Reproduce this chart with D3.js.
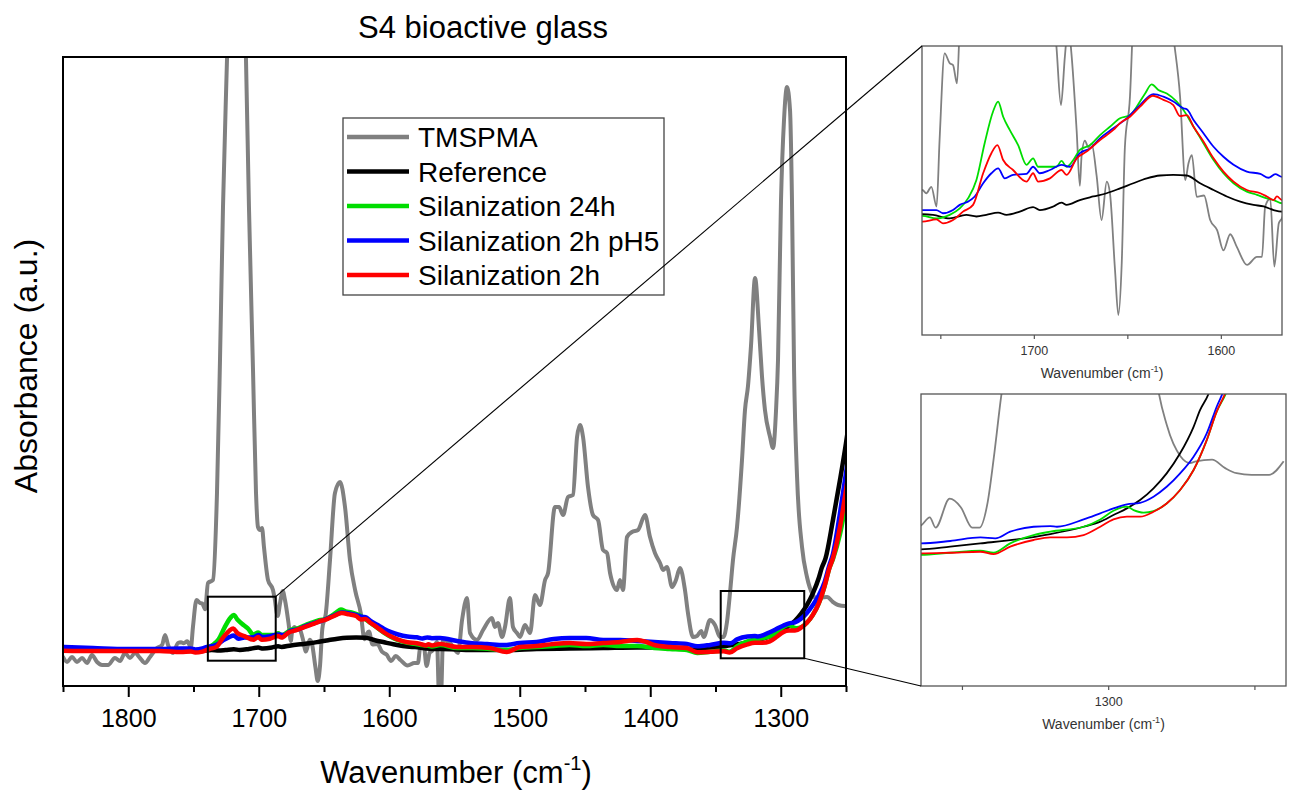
<!DOCTYPE html>
<html><head><meta charset="utf-8">
<script src="https://cdn.jsdelivr.net/npm/d3@7"></script>
<style>body{margin:0;background:#fff} svg{display:block} text{font-family:"Liberation Sans",Arial,Helvetica,sans-serif}</style>
</head><body><svg id="c" width="1291" height="796"></svg>
<script>
// ---- data: [wavenumber (cm-1), absorbance (a.u.)] ----
const tmspma = [[1850,0.29],[1846.9,0.24],[1843.1,0.29],[1839.3,0.24],[1835.4,0.28],[1831.6,0.23],[1827.8,0.31],[1823.9,0.24],[1820.1,0.21],[1815.5,0.21],[1810.2,0.28],[1806.3,0.25],[1802.5,0.33],[1798.7,0.28],[1794.8,0.33],[1791,0.28],[1787.2,0.23],[1783.3,0.29],[1778,0.38],[1774.1,0.41],[1771.8,0.51],[1769.5,0.41],[1765.7,0.33],[1761.9,0.43],[1759.6,0.437],[1757.5,0.427],[1754.8,0.447],[1752,0.386],[1750.4,0.592],[1747.7,0.86],[1745,0.83],[1743.2,0.824],[1741.1,0.767],[1738.9,1.03],[1735.1,1.06],[1732,1.93],[1729.7,3.26],[1727.4,4.79],[1724.3,6.28],[1721,7.9],[1717,8.3],[1713,7.7],[1709.8,6.28],[1707.5,4.79],[1704.4,3.16],[1702.1,1.93],[1700.6,1.59],[1699,1.56],[1697.5,1.58],[1696,1.39],[1692.9,1.06],[1689.1,0.96],[1687.9,0.88],[1685.5,0.7],[1683.4,0.85],[1681.6,0.95],[1679.9,0.86],[1677.1,0.62],[1675.4,0.45],[1674.5,0.54],[1672.7,0.59],[1670.9,0.57],[1669.1,0.58],[1666.4,0.48],[1663.8,0.344],[1661,0.463],[1659.3,0.427],[1656.6,0.19],[1654.8,0.05],[1653,0.21],[1651.3,0.571],[1648.6,0.726],[1645.4,1.26],[1641.6,1.93],[1637.7,2.04],[1633.9,1.79],[1630.1,1.26],[1626,0.95],[1621.8,0.726],[1619,0.468],[1617.3,0.52],[1615.5,0.545],[1612.9,0.416],[1609,0.42],[1605.7,0.344],[1602,0.313],[1598.6,0.25],[1595,0.3],[1591.4,0.26],[1586,0.205],[1580.7,0.23],[1578,0.23],[1576.3,0.386],[1573.6,0.41],[1571.4,0.2],[1569,0.334],[1567.3,0.35],[1563.4,0.44],[1561.9,-0.08],[1560.3,-0.08],[1558.8,0.46],[1553.4,0.43],[1549.6,0.36],[1547.3,0.33],[1544.2,0.66],[1540.4,0.88],[1538.1,0.53],[1532.7,0.46],[1528.1,0.56],[1521.3,0.68],[1519,0.59],[1516.7,0.63],[1513.6,0.49],[1511.3,0.59],[1507.5,0.88],[1505.2,0.59],[1502.1,0.53],[1499.8,0.49],[1496,0.61],[1492.1,0.53],[1488.3,0.91],[1484.5,0.81],[1480.6,1.06],[1478.3,1.13],[1473,1.79],[1469.9,1.79],[1466.8,1.71],[1463,1.89],[1459.2,1.91],[1456.1,2.49],[1453.8,2.61],[1451.5,2.49],[1447.7,1.99],[1443.9,1.71],[1440,1.66],[1436.2,1.36],[1433.1,1.33],[1430.8,1.13],[1425.5,0.96],[1423.2,1.06],[1420.9,0.96],[1417.8,1.49],[1414,1.54],[1409.4,1.56],[1404,1.71],[1400.2,1.49],[1396.4,1.33],[1392.5,1.23],[1390.2,1.16],[1387.2,1.19],[1383.3,0.99],[1380.3,1.06],[1377.2,1.18],[1373.4,0.96],[1371.1,0.73],[1367.2,0.49],[1364.2,0.5],[1361,0.55],[1359,0.49],[1354.2,0.66],[1350.4,0.61],[1346.5,0.49],[1344,0.49],[1341.2,0.64],[1338.9,0.93],[1336.6,1.26],[1333.5,1.59],[1329.7,2.26],[1327.4,2.76],[1325.1,3.0],[1322.8,3.4],[1319.7,4.08],[1316.6,3.56],[1314.4,3.1],[1312.1,2.76],[1308.2,2.49],[1305.9,2.38],[1303.6,2.76],[1302.1,3.26],[1299.8,4.86],[1297.5,5.66],[1295.2,5.99],[1292.9,5.76],[1291.4,4.86],[1289.8,3.16],[1287.5,2.09],[1283.7,1.39],[1279.9,1.09],[1275.3,0.91],[1272,0.87],[1270,0.88],[1264.5,0.89],[1260,0.84],[1256.1,0.81],[1251,0.8],[1245,0.8],[1240,0.88]];

const reference = [[1850,0.36],[1800,0.36],[1759.6,0.362],[1753.9,0.36],[1745,0.349],[1736.1,0.36],[1730.7,0.355],[1725.4,0.36],[1719.1,0.367],[1714.6,0.36],[1707.5,0.37],[1700.4,0.384],[1696.8,0.375],[1689.6,0.386],[1685.2,0.398],[1682.5,0.391],[1675.4,0.406],[1668.2,0.417],[1661.1,0.427],[1653.9,0.442],[1646.8,0.458],[1639.6,0.473],[1632.5,0.482],[1625.4,0.484],[1618.2,0.482],[1611.1,0.458],[1603.9,0.437],[1596.8,0.417],[1589.6,0.401],[1582.5,0.391],[1577.1,0.386],[1571.8,0.375],[1567.3,0.37],[1561,0.37],[1536,0.36],[1510,0.36],[1487,0.37],[1462,0.375],[1436,0.38],[1410,0.385],[1385,0.385],[1364,0.362],[1354,0.378],[1343.7,0.397],[1331.2,0.421],[1319.8,0.452],[1308.4,0.495],[1302.7,0.525],[1298.2,0.564],[1293.6,0.603],[1289.1,0.652],[1284.5,0.721],[1280,0.809],[1275.4,0.927],[1270.8,1.083],[1268.6,1.181],[1265.7,1.276],[1260,1.66],[1254.6,2.06],[1250,2.43],[1245,2.9],[1239,3.6]];

const sil24h = [[1850,0.36],[1800,0.36],[1759.6,0.357],[1752.1,0.349],[1745,0.36],[1739.6,0.38],[1735.2,0.411],[1730.7,0.468],[1726.3,0.582],[1721.8,0.68],[1719.1,0.711],[1716.4,0.664],[1712.9,0.623],[1708.4,0.576],[1703.9,0.515],[1700.4,0.535],[1697.7,0.509],[1691.4,0.509],[1687.9,0.509],[1685.2,0.527],[1682.5,0.509],[1678.9,0.53],[1675.4,0.561],[1670,0.576],[1664.6,0.607],[1659.3,0.633],[1653.9,0.659],[1648.6,0.669],[1645,0.695],[1640.5,0.736],[1637,0.764],[1633.4,0.747],[1628.9,0.736],[1623.6,0.711],[1620,0.685],[1614.6,0.633],[1609.3,0.582],[1603.9,0.53],[1598.6,0.489],[1593.2,0.458],[1586.1,0.432],[1580.7,0.422],[1575.4,0.411],[1571.8,0.406],[1567.3,0.396],[1561,0.41],[1548,0.38],[1536,0.38],[1523,0.37],[1510,0.36],[1500,0.38],[1487,0.39],[1474,0.4],[1462,0.41],[1449,0.4],[1436,0.41],[1423,0.4],[1410,0.4],[1397,0.38],[1385,0.37],[1372,0.36],[1364,0.329],[1354,0.342],[1343.7,0.354],[1339.2,0.342],[1333.5,0.397],[1325.5,0.446],[1319.8,0.466],[1308.4,0.495],[1302.7,0.538],[1298.2,0.589],[1293.6,0.613],[1291.3,0.593],[1287.9,0.578],[1284.5,0.587],[1280,0.632],[1275.4,0.711],[1270.8,0.829],[1266.3,1.005],[1262.9,1.172],[1260,1.27],[1254.6,1.52],[1250,1.83],[1245,2.2],[1239,2.8]];

const sil2hpH5 = [[1850,0.39],[1827,0.38],[1801,0.37],[1776,0.37],[1759.6,0.375],[1752.1,0.375],[1748.6,0.365],[1743.2,0.375],[1739.6,0.391],[1735.2,0.401],[1731.6,0.417],[1727.1,0.458],[1722.7,0.489],[1719.1,0.504],[1715.5,0.473],[1711.1,0.484],[1703.9,0.487],[1700.4,0.509],[1696.8,0.489],[1691.4,0.499],[1685.2,0.515],[1680.7,0.509],[1675.4,0.551],[1670,0.566],[1664.6,0.597],[1657.5,0.628],[1650.4,0.659],[1643.2,0.7],[1636.1,0.734],[1630.7,0.726],[1625.4,0.711],[1620,0.69],[1618.2,0.687],[1614.6,0.654],[1609.3,0.613],[1603.9,0.571],[1598.6,0.54],[1593.2,0.515],[1586.1,0.494],[1578.9,0.487],[1574.5,0.475],[1570.9,0.486],[1567.3,0.478],[1561,0.48],[1548,0.45],[1538,0.43],[1525,0.42],[1512,0.41],[1500,0.43],[1487,0.44],[1474,0.47],[1462,0.48],[1449,0.48],[1436,0.46],[1423,0.46],[1410,0.45],[1397,0.44],[1385,0.43],[1372,0.42],[1364,0.397],[1354,0.411],[1343.7,0.432],[1338.6,0.427],[1333.5,0.466],[1325.5,0.495],[1319.8,0.499],[1317.5,0.495],[1308.4,0.538],[1302.7,0.574],[1298.2,0.603],[1293.6,0.627],[1289.1,0.636],[1284.5,0.672],[1280,0.73],[1275.4,0.809],[1270.8,0.907],[1266.3,1.044],[1262.9,1.201],[1260,1.32],[1254.6,1.73],[1250,2.13],[1245,2.6],[1239,3.3]];

const sil2h = [[1850,0.353],[1827,0.35],[1801,0.35],[1776,0.35],[1759.6,0.339],[1752.1,0.346],[1748.6,0.334],[1743.2,0.344],[1737.9,0.37],[1732.5,0.391],[1727.1,0.489],[1722.7,0.551],[1719.5,0.576],[1716.4,0.53],[1711.1,0.499],[1703.9,0.463],[1700.4,0.489],[1697.7,0.463],[1691.4,0.473],[1685.2,0.499],[1682.5,0.484],[1677.1,0.535],[1671.8,0.556],[1664.6,0.592],[1657.5,0.623],[1653.9,0.644],[1648.6,0.664],[1643.2,0.695],[1636.4,0.729],[1630.7,0.716],[1625.4,0.7],[1621.8,0.666],[1618.2,0.669],[1614.6,0.633],[1609.3,0.587],[1603.9,0.535],[1598.6,0.494],[1593.2,0.463],[1586.1,0.437],[1578.9,0.427],[1575.4,0.417],[1571.8,0.406],[1570,0.417],[1567.3,0.406],[1561,0.42],[1548,0.39],[1536,0.39],[1523,0.38],[1510,0.34],[1500,0.39],[1487,0.4],[1474,0.42],[1462,0.43],[1449,0.42],[1436,0.43],[1423,0.44],[1410,0.46],[1403,0.44],[1397,0.41],[1385,0.39],[1372,0.38],[1364,0.338],[1354,0.342],[1343.7,0.348],[1339.2,0.334],[1333.5,0.378],[1325.5,0.417],[1319.8,0.432],[1314.1,0.432],[1308.4,0.446],[1302.7,0.495],[1298.2,0.538],[1293.6,0.554],[1289.1,0.554],[1284.5,0.583],[1280,0.632],[1275.4,0.711],[1270.8,0.829],[1266.3,1.005],[1262.9,1.172],[1260,1.28],[1254.6,1.59],[1250,1.96],[1245,2.4],[1239,3.0]];

const seriesNames  = ["TMSPMA","Reference","Silanization 24h","Silanization 2h pH5","Silanization 2h"];
const seriesColors = ["#808080","#000000","#00dd00","#0000ff","#ff0000"];
const seriesData   = [tmspma, reference, sil24h, sil2hpH5, sil2h];

const majorTicks  = [1800,1700,1600,1500,1400,1300];
const minorTicks  = [1850,1750,1650,1550,1450,1350,1250];
const inset1Major = [1700,1600];
const inset1Minor = [1750,1650];
const inset2Major = [1300];
const inset2Minor = [1350,1250];
// zoom boxes (wavenumber range, absorbance range)
const zoomBox1 = [1739,1687,0.253,0.893];
const zoomBox2 = [1346,1282,0.277,0.95];

// ---- drawing ----
const svg = d3.select("#c");
const FONT = '"Liberation Sans",Arial,sans-serif';

const M = {l:63, r:846, t:57, b:686};
const x = d3.scaleLinear().domain([1850,1250]).range([M.l,M.r]);
const y = d3.scaleLinear().domain([0,6.29]).range([M.b,M.t]);

svg.append("clipPath").attr("id","cpMain").append("rect")
  .attr("x",M.l).attr("y",M.t).attr("width",M.r-M.l).attr("height",M.b-M.t);

const gMain = svg.append("g").attr("clip-path","url(#cpMain)");
const line = d3.line().x(d=>x(d[0])).y(d=>y(d[1])).curve(d3.curveMonotoneX);
seriesData.forEach((s,i)=>{
  gMain.append("path").datum(s).attr("d",line).attr("fill","none")
    .attr("stroke",seriesColors[i]).attr("stroke-width",i===0?4:4.5)
    .attr("stroke-linejoin","round").attr("stroke-linecap","round");
});

// frame
svg.append("rect").attr("x",M.l).attr("y",M.t).attr("width",M.r-M.l).attr("height",M.b-M.t)
  .attr("fill","none").attr("stroke","#000").attr("stroke-width",2);

// x axis
const ax = svg.append("g").attr("transform",`translate(0,${M.b})`)
  .call(d3.axisBottom(x).tickValues(majorTicks).tickSize(11).tickFormat(d3.format("d")));
ax.select(".domain").remove();
ax.selectAll(".tick line").attr("stroke","#000").attr("stroke-width",2);
ax.selectAll(".tick text").attr("y",41).attr("dy",null).attr("font-size",25).attr("font-family",FONT).attr("fill","#000");
const axm = svg.append("g").attr("transform",`translate(0,${M.b})`)
  .call(d3.axisBottom(x).tickValues(minorTicks).tickSize(6).tickFormat(""));
axm.select(".domain").remove();
axm.selectAll(".tick line").attr("stroke","#000").attr("stroke-width",2);

// titles
svg.append("text").attr("x",483).attr("y",38).attr("text-anchor","middle")
  .attr("font-size",31).text("S4 bioactive glass");
svg.append("text").attr("transform","translate(37,366) rotate(-90)").attr("text-anchor","middle")
  .attr("font-size",32).text("Absorbance (a.u.)");
const xt = svg.append("text").attr("x",456).attr("y",783).attr("text-anchor","middle").attr("font-size",31);
xt.append("tspan").text("Wavenumber (cm");
xt.append("tspan").attr("font-size",20).attr("dy",-13).text("-1");
xt.append("tspan").attr("dy",13).text(")");

// zoom boxes
[zoomBox1,zoomBox2].forEach(b=>{
  svg.append("rect").attr("x",x(b[0])).attr("y",y(b[3]))
    .attr("width",x(b[1])-x(b[0])).attr("height",y(b[2])-y(b[3]))
    .attr("fill","none").attr("stroke","#000").attr("stroke-width",2);
});

// legend
const lg = svg.append("g");
lg.append("rect").attr("x",343).attr("y",118).attr("width",321).attr("height",177)
  .attr("fill","#fff").attr("stroke","#444").attr("stroke-width",1.3);
seriesNames.forEach((n,i)=>{
  const yy = 137 + i*34.5;
  lg.append("line").attr("x1",347).attr("x2",409).attr("y1",yy).attr("y2",yy)
    .attr("stroke",seriesColors[i]).attr("stroke-width",4.5);
  lg.append("text").attr("x",418).attr("y",yy+10).attr("font-size",28).text(n);
});

// insets
function inset(id, xd, yd, xr, yr, major, minor, lw){
  const xi = d3.scaleLinear().domain(xd).range(xr);
  const yi = d3.scaleLinear().domain(yd).range(yr);
  svg.append("clipPath").attr("id",id).append("rect")
    .attr("x",xr[0]).attr("y",yr[1]).attr("width",xr[1]-xr[0]).attr("height",yr[0]-yr[1]);
  const g = svg.append("g").attr("clip-path",`url(#${id})`);
  const li = d3.line().x(d=>xi(d[0])).y(d=>yi(d[1])).curve(d3.curveMonotoneX);
  seriesData.forEach((s,i)=>{
    g.append("path").datum(s).attr("d",li).attr("fill","none")
      .attr("stroke",seriesColors[i]).attr("stroke-width",lw).attr("stroke-linejoin","round");
  });
  svg.append("rect").attr("x",xr[0]).attr("y",yr[1]).attr("width",xr[1]-xr[0]).attr("height",yr[0]-yr[1])
    .attr("fill","none").attr("stroke","#555").attr("stroke-width",1.3);
  const a1 = svg.append("g").attr("transform",`translate(0,${yr[0]})`)
    .call(d3.axisBottom(xi).tickValues(major).tickSize(4).tickFormat(d3.format("d")));
  a1.select(".domain").remove();
  a1.selectAll(".tick line").attr("stroke","#555").attr("stroke-width",1.2);
  a1.selectAll(".tick text").attr("y",19.5).attr("dy",null).attr("font-size",12.5).attr("font-family",FONT).attr("fill","#333");
  const a2 = svg.append("g").attr("transform",`translate(0,${yr[0]})`)
    .call(d3.axisBottom(xi).tickValues(minor).tickSize(4).tickFormat(""));
  a2.select(".domain").remove();
  a2.selectAll(".tick line").attr("stroke","#555").attr("stroke-width",1.2);
  const t = svg.append("text").attr("x",(xr[0]+xr[1])/2).attr("y",yr[0]+43).attr("text-anchor","middle")
    .attr("font-size",14).attr("fill","#333");
  t.append("tspan").text("Wavenumber (cm");
  t.append("tspan").attr("font-size",9).attr("dy",-6).text("-1");
  t.append("tspan").attr("dy",6).text(")");
  return {xi, yi};
}
const i1 = inset("cp1",[1759.8,1567.3],[-0.012,0.883],[922,1282],[335,46],inset1Major,inset1Minor,1.8);
const i2 = inset("cp2",[1364,1239.2],[-0.442,1.276],[921,1286],[686,394],inset2Major,inset2Minor,1.8);

// connector lines
svg.append("line").attr("x1",x(zoomBox1[1])).attr("y1",y(zoomBox1[3]))
  .attr("x2",i1.xi(i1.xi.domain()[0])).attr("y2",i1.yi(i1.yi.domain()[1]))
  .attr("stroke","#000").attr("stroke-width",1.1);
svg.append("line").attr("x1",x(zoomBox2[1])).attr("y1",y(zoomBox2[2]))
  .attr("x2",i2.xi(i2.xi.domain()[0])).attr("y2",i2.yi(i2.yi.domain()[0]))
  .attr("stroke","#000").attr("stroke-width",1.1);
</script></body></html>
